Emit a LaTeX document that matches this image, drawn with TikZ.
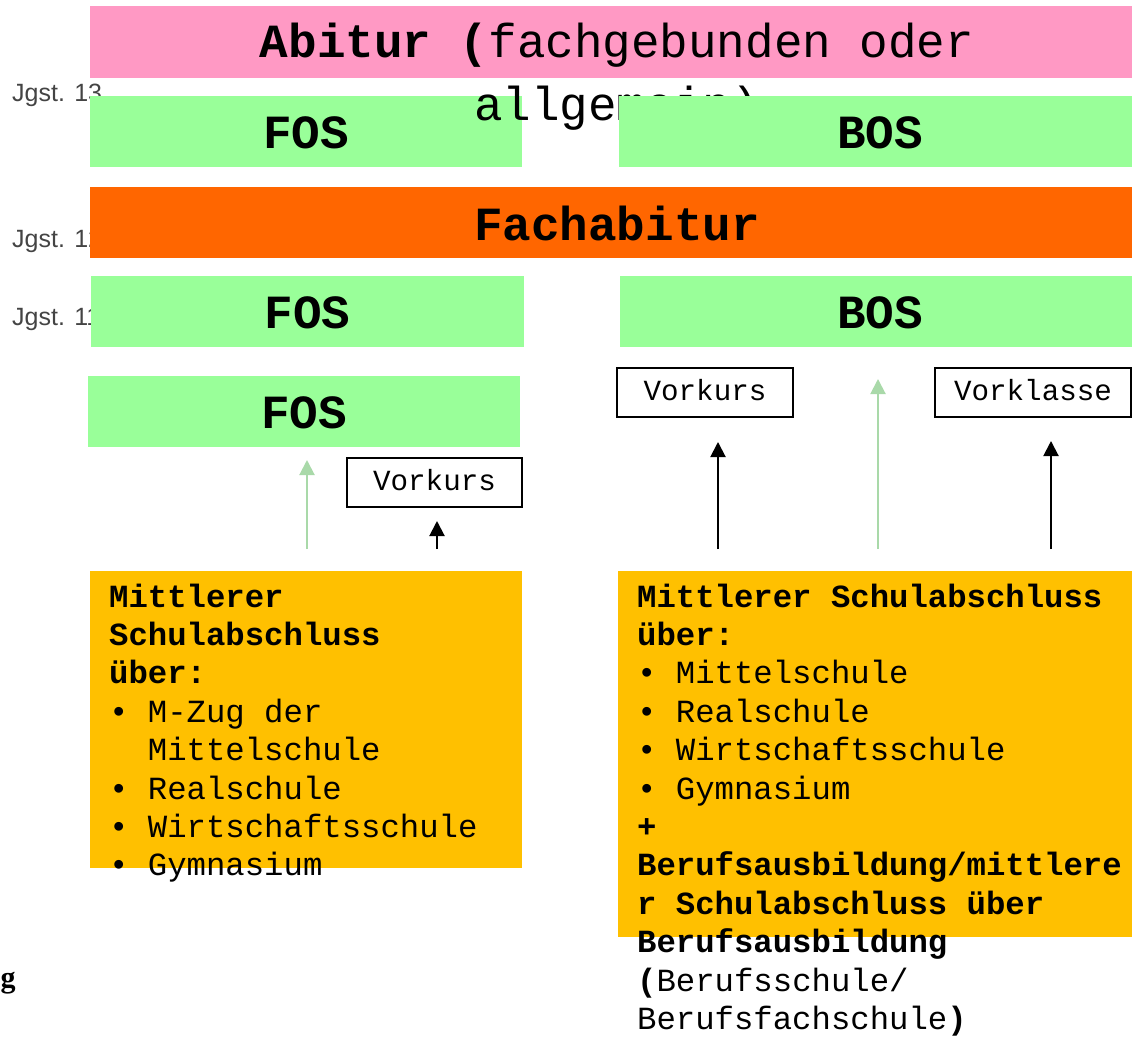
\documentclass[tikz,border=0pt]{standalone}
\usepackage{fontspec}
\setmonofont{Liberation Mono}
\setsansfont{Liberation Sans}
\newfontfamily\cutserif{Liberation Serif}
\usetikzlibrary{arrows.meta}

\definecolor{abiturpink}{HTML}{FF99C4}
\definecolor{schoolgreen}{HTML}{99FF99}
\definecolor{fachorange}{HTML}{FF6600}
\definecolor{msagold}{HTML}{FFC000}
\definecolor{paleline}{HTML}{A9D9A9}
\definecolor{jgstgray}{HTML}{444444}

\tikzset{
  band/.style={draw=none, inner sep=0pt, outer sep=0pt, anchor=north west},
  bigbar/.style={band, minimum height=71pt, text height=33pt, text depth=0pt,
    font=\ttfamily\bfseries\fontsize{47.6}{57}\selectfont},
  greenbar/.style={bigbar, fill=schoolgreen},
  prepbox/.style={band, draw=black, line width=1.6pt, minimum height=49pt,
    text height=15pt, text depth=0pt,
    font=\ttfamily\fontsize{29.2}{35}\selectfont},
  jgst/.style={anchor=base west, inner sep=0pt, text=jgstgray,
    font=\sffamily\fontsize{25}{30}\selectfont},
  % multi-line texts: the base anchor sits on the last line
  msatext/.style={anchor=base west, inner sep=0pt, align=left,
    font=\ttfamily\fontsize{32.3}{38.4}\selectfont},
  uparrow/.style={line width=2pt, -{Triangle[length=15pt,width=15pt]}},
  blackarrow/.style={uparrow, draw=black},
  greenarrow/.style={uparrow, draw=paleline},
}

\begin{document}
\begin{tikzpicture}[x=1pt, y=-1pt]
\useasboundingbox (0,0) rectangle (1132,1038);
\begin{scope}
\clip (0,0) rectangle (1132,1038);

% grade labels on the left, partly hidden by the bars
\node[jgst] (j13) at (12,102) {Jgst. 13};
\node[jgst] (j12) at (12,247) {Jgst. 12};
\node[jgst] (j11) at (12,325) {Jgst. 11};

% year 13, FOS side (under the overflowing Abitur text)
\node[greenbar, minimum width=432pt] (fos13) at (90,96) {FOS};

% Abitur bar; its second text line runs below the bar
\node[band, fill=abiturpink, minimum width=1052pt, minimum height=72pt] (abitur) at (90,6) {};
\node[anchor=base, inner sep=0pt, align=center,
      font=\ttfamily\fontsize{47.6}{63}\selectfont] (abiturtext) at (617,121)
  {\textbf{Abitur (}fachgebunden oder\\allgemein)};

% year 13, BOS side (over the Abitur text)
\node[band, fill=schoolgreen, minimum width=523pt, minimum height=71pt] (bos13) at (619,96) {};
\node[anchor=base, inner sep=0pt, font=\ttfamily\bfseries\fontsize{47.6}{57}\selectfont] (bos13t) at (880,148) {BOS};

% Fachabitur
\node[band, fill=fachorange, minimum width=1052pt, minimum height=71pt] (fach) at (90,187) {};
\node[anchor=base, inner sep=0pt, font=\ttfamily\bfseries\fontsize{47.6}{57}\selectfont] (facht) at (617,240) {Fachabitur};

% year 12
\node[greenbar, minimum width=433pt] (fos12) at (91,276) {FOS};
\node[band, fill=schoolgreen, minimum width=522pt, minimum height=71pt] (bos12) at (620,276) {};
\node[anchor=base, inner sep=0pt, font=\ttfamily\bfseries\fontsize{47.6}{57}\selectfont] (bos12t) at (880,328) {BOS};

% year 11
\node[greenbar, minimum width=432pt] (fos11) at (88,376) {FOS};

% preparatory classes
\node[prepbox, minimum width=175pt] (vkfos) at (347,458) {Vorkurs};
\node[prepbox, minimum width=176pt] (vkbos) at (617,368) {Vorkurs};
\node[prepbox, minimum width=196pt] (vklasse) at (935,368) {Vorklasse};

% entry qualifications
\node[band, fill=msagold, minimum width=432pt, minimum height=297pt] (msafos) at (90,571) {};
\node[msatext] (msafost) at (109,875.8)
  {\textbf{Mittlerer}\\
   \textbf{Schulabschluss}\\
   \textbf{über:}\\
   • M-Zug der\\
   \hspace*{1.2em}Mittelschule\\
   • Realschule\\
   • Wirtschaftsschule\\
   • Gymnasium};

\node[band, fill=msagold, minimum width=524pt, minimum height=366pt] (msabos) at (618,571) {};
\node[msatext] (msabost) at (637,1029.4)
  {\textbf{Mittlerer Schulabschluss}\\
   \textbf{über:}\\
   • Mittelschule\\
   • Realschule\\
   • Wirtschaftsschule\\
   • Gymnasium\\
   \textbf{+}\\
   \textbf{Berufsausbildung/mittlere}\\
   \textbf{r Schulabschluss über}\\
   \textbf{Berufsausbildung}\\
   \textbf{(}Berufsschule/\\
   Berufsfachschule\textbf{)}};

% cut-off letter at the left margin
\node[anchor=base west, inner sep=0pt, font=\cutserif\bfseries\fontsize{30}{36}\selectfont] (cutg) at (0.5,987) {g};

% arrow start points above the qualification boxes
\coordinate (sfos) at (307,549);
\coordinate (svkfos) at (437,549);
\coordinate (svkbos) at (718,549);
\coordinate (sbos) at (878,549);
\coordinate (svkl) at (1051,549);

\draw[greenarrow, shorten >=13pt] (sfos) -- (sfos |- fos11.south);
\draw[blackarrow, shorten >=14pt] (svkfos) -- (svkfos |- vkfos.south);
\draw[blackarrow, shorten >=25pt] (svkbos) -- (svkbos |- vkbos.south);
\draw[greenarrow, shorten >=32pt] (sbos) -- (sbos |- bos12.south);
\draw[blackarrow, shorten >=24pt] (svkl) -- (svkl |- vklasse.south);
\end{scope}
\end{tikzpicture}
\end{document}
